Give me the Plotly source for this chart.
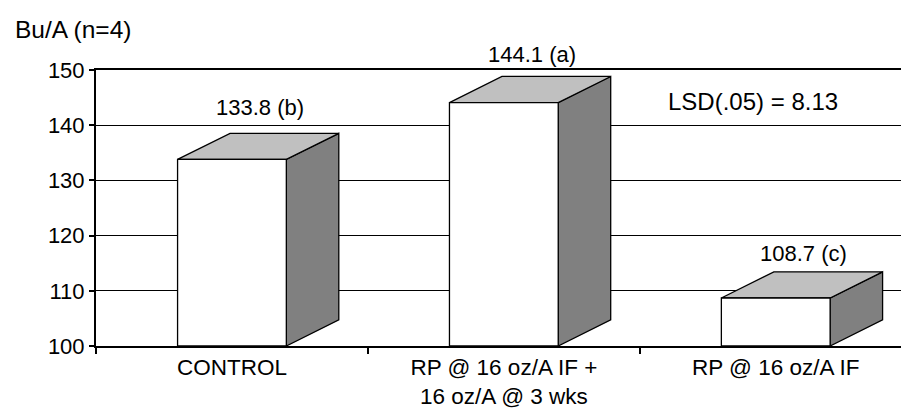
import plotly.graph_objects as go

# ---- data ----
categories = ["CONTROL", "RP @ 16 oz/A IF +<br>16 oz/A @ 3 wks", "RP @ 16 oz/A IF"]
values = [133.8, 144.1, 108.7]
letters = ["b", "a", "c"]
y_ticks = [100, 110, 120, 130, 140, 150]
lsd_text = "LSD(.05) = 8.13"
y_title = "Bu/A (n=4)"

# ---- style ----
FONT = "Liberation Sans, Arial, sans-serif"
FS = 22
W, H = 901, 409
ML, MR, MT, MB = 96, 0, 70, 61
BAR_W = 0.40        # front face width (category units)
DX = 0.193          # depth offset in x (category units)
DY = 4.73           # depth offset in y (value units)
FLOOR = 100
label_dy_px = [26, 22, 18]
X_RANGE = [-0.5, 2.4607]

fig = go.Figure()

for i, v in enumerate(values):
    xl, xr = i - BAR_W / 2, i + BAR_W / 2
    # side face
    fig.add_trace(go.Scatter(
        x=[xr, xr + DX, xr + DX, xr, xr],
        y=[FLOOR, FLOOR + DY, v + DY, v, FLOOR],
        mode="lines", fill="toself", fillcolor="#808080",
        line=dict(color="black", width=1.3), hoverinfo="skip", showlegend=False))
    # top face
    fig.add_trace(go.Scatter(
        x=[xl, xr, xr + DX, xl + DX, xl],
        y=[v, v, v + DY, v + DY, v],
        mode="lines", fill="toself", fillcolor="#C0C0C0",
        line=dict(color="black", width=1.3), hoverinfo="skip", showlegend=False))
    # front face
    fig.add_trace(go.Scatter(
        x=[xl, xr, xr, xl, xl],
        y=[FLOOR, FLOOR, v, v, FLOOR],
        mode="lines", fill="toself", fillcolor="white",
        line=dict(color="black", width=1.3), hoverinfo="skip", showlegend=False))
    fig.add_annotation(
        x=i + DX / 2, y=v + DY, xref="x", yref="y",
        text=f"{v:.1f} ({letters[i]})", showarrow=False,
        yanchor="middle", xanchor="center", yshift=label_dy_px[i], xshift=2,
        font=dict(family=FONT, size=FS, color="black"))

fig.add_annotation(x=1.915, y=144.34, xref="x", yref="y", text=lsd_text,
                   showarrow=False, xanchor="center", yanchor="middle",
                   font=dict(family=FONT, size=24, color="black"))

fig.add_annotation(x=(12.7 - ML) / (W - ML - MR), y=1 + (MT - 29) / (H - MT - MB),
                   xref="paper", yref="paper", text=y_title, showarrow=False,
                   xanchor="left", yanchor="middle",
                   font=dict(family=FONT, size=24.5, color="black"))

fig.update_layout(
    width=W, height=H,
    margin=dict(l=ML, r=MR, t=MT, b=MB),
    paper_bgcolor="white", plot_bgcolor="white",
    showlegend=False,
    font=dict(family=FONT, size=FS, color="black"),
    xaxis=dict(
        range=X_RANGE, tickmode="array", tickvals=list(range(len(categories))),
        ticktext=categories, ticks="", showgrid=False, zeroline=False,
        showline=True, linecolor="black", linewidth=2, mirror=True,
        tickfont=dict(family=FONT, size=FS + 0.5, color="black"),
        minor=dict(tick0=-0.5, dtick=1, ticks="outside", ticklen=6,
                   tickcolor="black", tickwidth=1.5, showgrid=False),
    ),
    yaxis=dict(
        range=[y_ticks[0], y_ticks[-1]], tickmode="array", tickvals=y_ticks,
        ticks="outside", ticklen=5, tickcolor="black", tickwidth=1.5,
        showgrid=True, gridcolor="black", gridwidth=1, zeroline=False,
        showline=True, linecolor="black", linewidth=2,
        tickfont=dict(family=FONT, size=FS, color="black"),
    ),
)

fig.write_html("out.html", config={"displayModeBar": False},
               post_script="document.body.style.margin='0';document.body.style.overflow='hidden';")
